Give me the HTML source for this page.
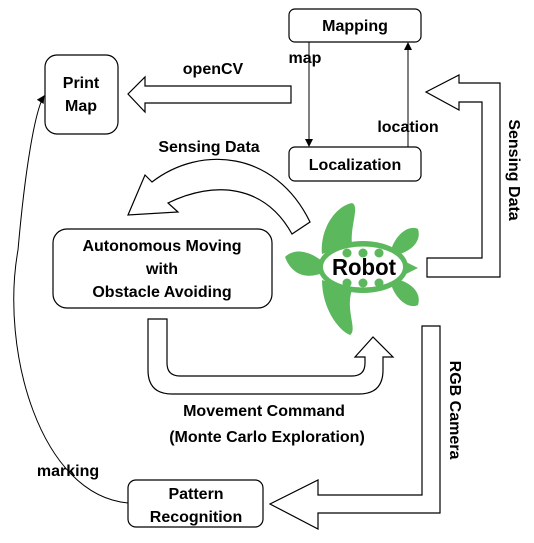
<!DOCTYPE html>
<html><head><style>
body{margin:0;background:#fff}
svg{display:block}
text{font-family:"Liberation Sans",sans-serif;font-weight:bold;font-size:16px;fill:#000}
.b{fill:#fff;stroke:#000;stroke-width:1.2}
</style></head><body>
<svg width="534" height="543" viewBox="0 0 534 543">
<defs><marker id="ah" markerWidth="8" markerHeight="8" refX="7" refY="4" orient="auto" markerUnits="userSpaceOnUse"><path d="M0,0 L8,4 L0,8 z" fill="#000"/></marker></defs>
<!-- boxes -->
<rect class="b" x="289" y="9" width="132" height="33" rx="6"/>
<text x="355" y="31" text-anchor="middle">Mapping</text>
<rect class="b" x="289" y="147" width="132" height="34" rx="6"/>
<text x="355" y="170" text-anchor="middle">Localization</text>
<rect class="b" x="45" y="55" width="73" height="79" rx="12"/>
<text x="81" y="88" text-anchor="middle">Print</text>
<text x="81" y="111" text-anchor="middle">Map</text>
<rect class="b" x="53" y="229" width="219" height="79" rx="14"/>
<text x="162" y="251" text-anchor="middle">Autonomous Moving</text>
<text x="162" y="274" text-anchor="middle">with</text>
<text x="162" y="297" text-anchor="middle">Obstacle Avoiding</text>
<rect class="b" x="128" y="480" width="135" height="47" rx="8"/>
<text x="196" y="499" text-anchor="middle">Pattern</text>
<text x="196" y="522" text-anchor="middle">Recognition</text>
<!-- thin arrows -->
<line x1="309" y1="42" x2="309" y2="146" stroke="#000" marker-end="url(#ah)"/>
<line x1="408" y1="147" x2="408" y2="43" stroke="#000" marker-end="url(#ah)"/>
<path d="M128,503 C40,495 0,350 18,250 C25,170 35,110 44,96" fill="none" stroke="#000" marker-end="url(#ah)"/>
<!-- openCV arrow -->
<path class="b" d="M291,86 L145,86 L145,77 L128,94 L145,112 L145,103 L291,103 Z"/>
<!-- right sensing arrow -->
<path class="b" d="M427,258 L482,258 L482,102 L459,102 L459,110 L426,92 L459,75 L459,83 L500,83 L500,277 L427,277 Z"/>
<!-- curved sensing arrow -->
<path class="b" d="M128,215 L145,175 L152,182 C200,145 275,150 310,222 L292,234 C265,185 215,180 168,203 L178,212 Z"/>
<!-- movement arrow -->
<path class="b" d="M148,319 L167,319 L167,363 Q167,376 180,376 L352,376 Q365,376 365,363 L365,357 L355,357 L373,337 L393,357 L383,357 L383,370 Q383,394 359,394 L172,394 Q148,394 148,370 Z"/>
<!-- RGB arrow -->
<path class="b" d="M422,326 L440,326 L440,513 L318,513 L318,529 L270,504 L318,480 L318,495 L422,495 Z"/>
<!-- turtle -->
<g fill="#5cb85c">
<path d="M322,254 C320,228 336,206 352,203 C360,206 350,226 352,244 Z"/>
<path d="M322,280 C322,308 338,330 350,335 C358,330 345,310 352,290 Z"/>
<path d="M392,247 C398,232 410,225 418,229 C422,242 410,252 396,255 Z"/>
<path d="M392,287 C398,302 410,309 418,305 C422,292 410,282 396,279 Z"/>
<path d="M322,261 C305,248 292,250 285,257 C292,276 308,279 322,273 Z"/>
<path d="M406,262 L418,268 L406,274 Z"/>
<ellipse cx="363" cy="267" rx="45" ry="26"/>
</g>
<ellipse cx="363" cy="267" rx="40" ry="20.5" fill="#fff"/>
<g fill="#5cb85c">
<circle cx="347" cy="253" r="4.5"/><circle cx="363" cy="253" r="4.5"/><circle cx="379" cy="253" r="4.5"/>
<circle cx="347" cy="283" r="4.5"/><circle cx="363" cy="283" r="4.5"/><circle cx="379" cy="283" r="4.5"/>
</g>
<text x="364" y="275" text-anchor="middle" style="font-size:23px" textLength="64" lengthAdjust="spacingAndGlyphs">Robot</text>
<!-- labels -->
<text x="213" y="74" text-anchor="middle">openCV</text>
<text x="305" y="63" text-anchor="middle">map</text>
<text x="408" y="132" text-anchor="middle">location</text>
<text x="209" y="152" text-anchor="middle">Sensing Data</text>
<text x="264" y="416" text-anchor="middle">Movement Command</text>
<text x="267" y="442" text-anchor="middle">(Monte Carlo Exploration)</text>
<text x="68" y="476" text-anchor="middle">marking</text>
<text transform="translate(509,170) rotate(90)" text-anchor="middle">Sensing Data</text>
<text transform="translate(450,410) rotate(90)" text-anchor="middle">RGB Camera</text>
</svg>
</body></html>
